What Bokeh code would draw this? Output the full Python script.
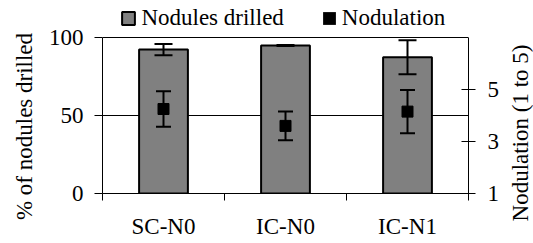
import math
from bokeh.plotting import figure
from bokeh.layouts import row
from bokeh.core.properties import value
from bokeh.models import (Range1d, LinearAxis, FixedTicker, Whisker, TeeHead,
                          ColumnDataSource, Legend, LegendItem)
from bokeh.embed import file_html
from bokeh.resources import INLINE

categories = ["SC-N0", "IC-N0", "IC-N1"]
drilled = [92.3, 94.9, 87.3]
drilled_err = [3.6, 0.3, 10.9]
nodulation = [4.25, 3.6, 4.15]
nodulation_err = [0.68, 0.55, 0.83]
left_ticks = [0, 50, 100]
right_ticks = [1, 3, 5]
right_max = 7
left_title = "% of nodules drilled"
right_title = "Nodulation (1 to 5)"

FONT = "Liberation Serif"
FS = "23px"
H = 243
LEFT_W, RIGHT_W = 38, 31
MAIN_W = 533 - LEFT_W - RIGHT_W
PLOT_L, PLOT_R, PLOT_T, PLOT_B = 102, 470, 37, 193   # page pixels of the value area
LEG_H = PLOT_T / (PLOT_B - PLOT_T)                    # headroom for the legend, as a fraction

xs = [i + 0.5 for i in range(len(categories))]
src = ColumnDataSource(dict(
    x=xs, drilled=drilled,
    d_up=[v + e for v, e in zip(drilled, drilled_err)],
    d_lo=[v - e for v, e in zip(drilled, drilled_err)],
    nod=nodulation,
    n_up=[v + e for v, e in zip(nodulation, nodulation_err)],
    n_lo=[v - e for v, e in zip(nodulation, nodulation_err)],
))

y0, y1 = left_ticks[0], left_ticks[-1]
r0, r1 = right_ticks[0], right_max
p = figure(width=MAIN_W, height=H, output_backend="svg", toolbar_location=None,
           x_range=Range1d(0, len(categories)),
           y_range=Range1d(y0, y1 + (y1 - y0) * LEG_H),
           min_border_left=PLOT_L - LEFT_W, min_border_right=533 - RIGHT_W - PLOT_R,
           min_border_top=0, min_border_bottom=H - PLOT_B)
p.extra_y_ranges = {"nod": Range1d(r0, r1 + (r1 - r0) * LEG_H)}
p.outline_line_color = None
p.background_fill_color = "white"
p.border_fill_color = "white"

bars = p.vbar(x="x", top="drilled", bottom=0, width=0.4, source=src,
              fill_color="#808080", line_color="black", line_width=2)
p.add_layout(Whisker(base="x", upper="d_up", lower="d_lo", source=src,
                     line_color="black", line_width=2, level="overlay",
                     upper_head=TeeHead(size=18, line_color="black", line_width=2),
                     lower_head=TeeHead(size=18, line_color="black", line_width=2)))
p.add_layout(Whisker(base="x", upper="n_up", lower="n_lo", source=src, y_range_name="nod",
                     line_color="black", line_width=2, level="overlay",
                     upper_head=TeeHead(size=15, line_color="black", line_width=2),
                     lower_head=TeeHead(size=15, line_color="black", line_width=2)))
p.scatter(x="x", y="nod", source=src, y_range_name="nod", marker="square", size=11,
          fill_color="black", line_color="black", level="overlay")
# zero-area bars: only provide the black square legend swatch for "Nodulation"
swatch = p.vbar(x="x", top=0, bottom=0, width=0.4, source=src,
                fill_color="black", line_color=None)

# x axis
xa = p.xaxis[0]
xa.ticker = FixedTicker(ticks=xs, minor_ticks=list(range(len(categories) + 1)))
xa.major_label_overrides = {x: c for x, c in zip(xs, categories)}
xa.major_tick_out = 0
xa.major_tick_in = 0
xa.minor_tick_out = 7
xa.minor_tick_in = 0
xa.minor_tick_line_color = "black"
xa.major_label_standoff = 13

# left axis
ya = p.yaxis[0]
ya.ticker = FixedTicker(ticks=left_ticks)
ya.bounds = (y0, y1)
ya.minor_tick_line_color = None
ya.major_tick_out = 8
ya.major_tick_in = 0
ya.major_label_standoff = 11

# right axis
ra = LinearAxis(y_range_name="nod", ticker=FixedTicker(ticks=right_ticks), bounds=(r0, r1))
ra.minor_tick_line_color = None
ra.major_tick_out = 7
ra.major_tick_in = 7
ra.major_label_standoff = 12
p.add_layout(ra, "right")

for ax in [xa, ya, ra]:
    ax.major_label_text_font = FONT
    ax.major_label_text_font_size = FS
    ax.major_label_text_color = "black"
    ax.axis_line_color = "black"
    ax.major_tick_line_color = "black"

p.xgrid.grid_line_color = None
p.ygrid.ticker = FixedTicker(ticks=left_ticks[1:])
p.ygrid.grid_line_color = "black"
p.ygrid.grid_line_width = 1

legend = Legend(items=[LegendItem(label="Nodules drilled", renderers=[bars]),
                       LegendItem(label="Nodulation", renderers=[swatch])],
                location=(18.4, 162.5), orientation="horizontal",
                border_line_color=None, background_fill_alpha=0,
                padding=0, margin=0, spacing=37, label_standoff=5,
                glyph_width=16, glyph_height=16,
                label_text_font=FONT, label_text_font_size=FS, label_text_color="black")
p.add_layout(legend, "center")


def title_panel(width, text, cx, cy):
    f = figure(width=width, height=H, output_backend="svg", toolbar_location=None,
               x_range=Range1d(0, width), y_range=Range1d(0, H),
               x_axis_type=None, y_axis_type=None, min_border=0)
    if "frame_align" in f.properties():
        f.frame_align = False
    f.outline_line_color = None
    f.background_fill_color = "white"
    f.border_fill_color = "white"
    f.text(x=[cx], y=[cy], text=[text], angle=math.pi / 2,
           text_align="center", text_baseline="middle",
           text_font=value(FONT), text_font_size=value(FS), text_color="black")
    return f


if "frame_align" in p.properties():
    p.frame_align = False
left_fig = title_panel(LEFT_W, left_title, 24, H - 126)
right_fig = title_panel(RIGHT_W, right_title, 520 - (533 - RIGHT_W), H - 132.5)

layout = row(left_fig, p, right_fig, spacing=0)
open("out.html", "w").write(file_html(layout, INLINE))
